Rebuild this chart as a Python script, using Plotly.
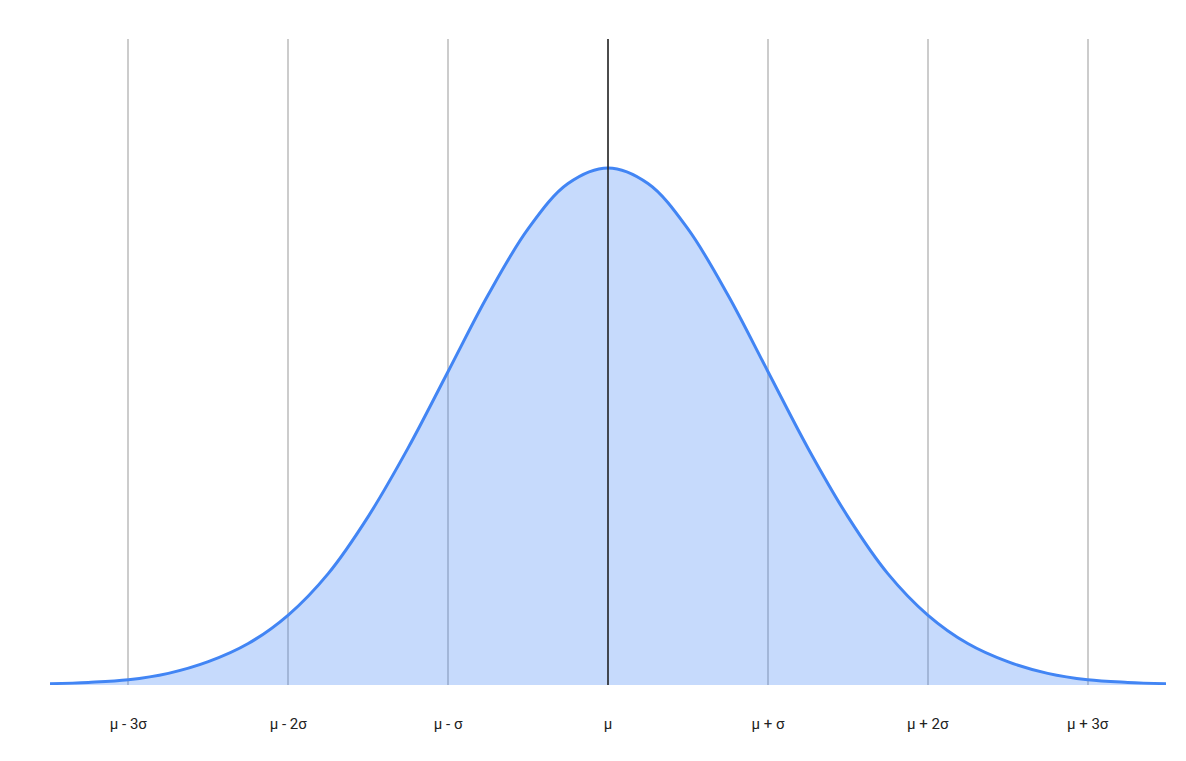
import plotly.graph_objects as go

x_vals = [-3.5, -3.25, -3.0, -2.75, -2.5, -2.25, -2.0, -1.75, -1.5, -1.25, -1.0, -0.75, -0.5, -0.25, 0.0,
          0.25, 0.5, 0.75, 1.0, 1.25, 1.5, 1.75, 2.0, 2.25, 2.5, 2.75, 3.0, 3.25, 3.5]
y_vals = [0.001, 0.002, 0.004, 0.009, 0.018, 0.032, 0.054, 0.086, 0.130, 0.183, 0.242, 0.301, 0.352, 0.387, 0.399,
          0.387, 0.352, 0.301, 0.242, 0.183, 0.130, 0.086, 0.054, 0.032, 0.018, 0.009, 0.004, 0.002, 0.001]
tick_pos = [-3, -2, -1, 0, 1, 2, 3]
tick_labels = ["μ - 3σ", "μ - 2σ", "μ - σ", "μ", "μ + σ", "μ + 2σ", "μ + 3σ"]

fig = go.Figure()
fig.add_trace(go.Scatter(x=x_vals, y=y_vals, mode="lines", line=dict(color="#4285f4", width=3, shape="spline"),
                         fill="tozeroy", fillcolor="rgba(66,133,244,0.3)", hoverinfo="skip"))
fig.add_shape(type="line", xref="x", yref="paper", x0=0, x1=0, y0=0, y1=1,
              line=dict(color="#222222", width=1.5), layer="above")
fig.update_layout(
    width=1186, height=761, margin=dict(l=42, r=28, t=31, b=84),
    paper_bgcolor="white", plot_bgcolor="white", showlegend=False,
    font=dict(family="Roboto", size=15, color="#222222"),
    xaxis=dict(range=[-3.49, 3.49], tickvals=tick_pos, ticktext=tick_labels, showgrid=True,
               gridcolor="#cccccc", gridwidth=1.5, zeroline=False, showline=False, ticks="", ticklabelstandoff=28),
    yaxis=dict(range=[0, 0.4986], showgrid=False, zeroline=False, showticklabels=False),
)
fig.write_html("out.html")
